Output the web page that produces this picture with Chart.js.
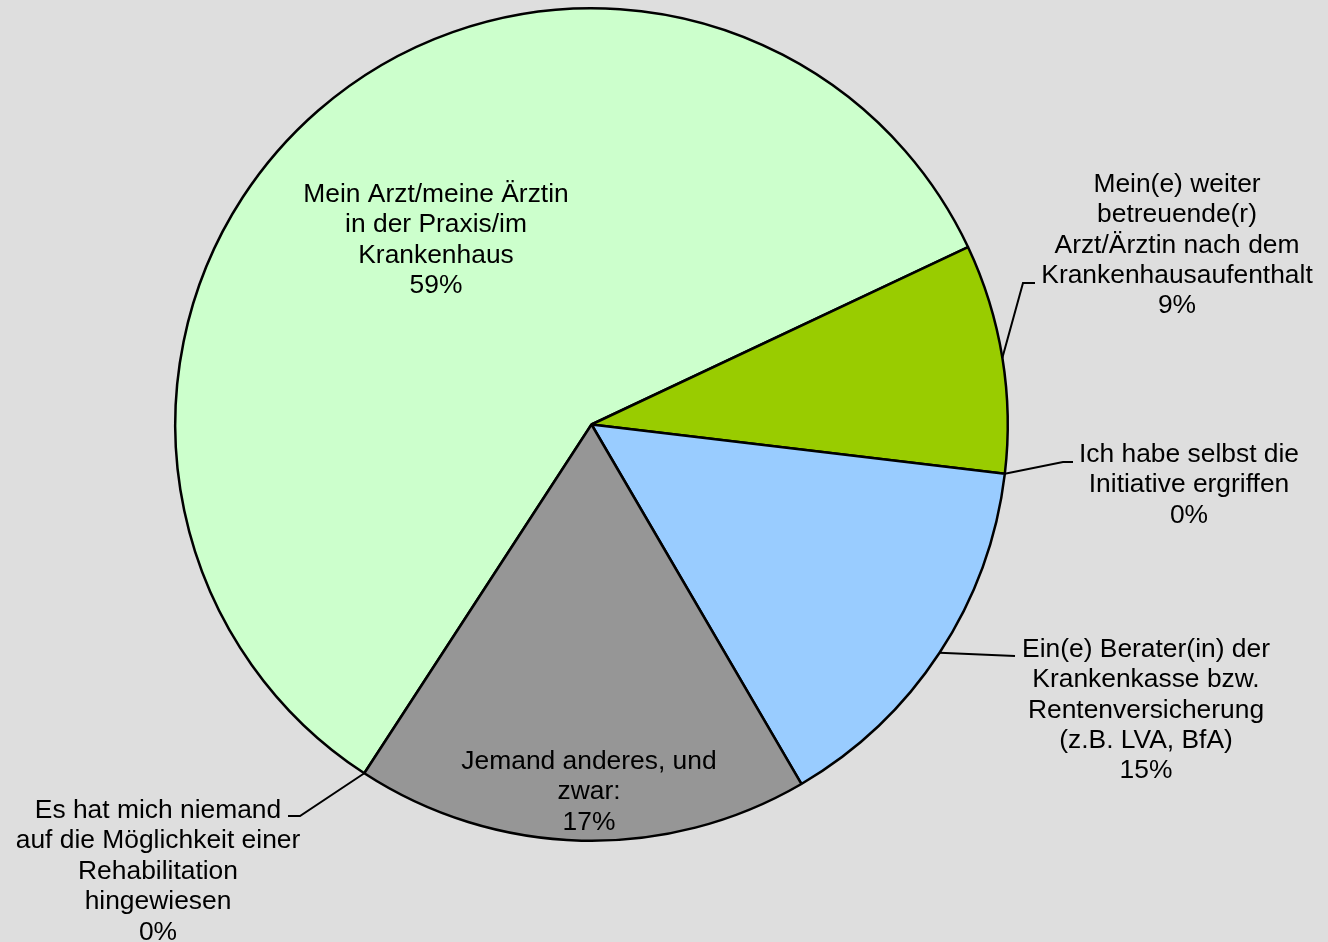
<!DOCTYPE html>
<html>
<head>
<meta charset="utf-8">
<script src="https://cdn.jsdelivr.net/npm/chart.js@4.4.0/dist/chart.umd.min.js"></script>
<style>
  html, body { margin: 0; padding: 0; background: #dedede; }
  #wrap { width: 1328px; height: 942px; }
</style>
</head>
<body>
<div id="wrap"><canvas id="pieChart" width="1328" height="942"></canvas></div>
<script>
const categories = [
  'Mein Arzt/meine Ärztin\nin der Praxis/im\nKrankenhaus',
  'Mein(e) weiter\nbetreuende(r)\nArzt/Ärztin nach dem\nKrankenhausaufenthalt',
  'Ich habe selbst die\nInitiative ergriffen',
  'Ein(e) Berater(in) der\nKrankenkasse bzw.\nRentenversicherung\n(z.B. LVA, BfA)',
  'Jemand anderes, und\nzwar:',
  'Es hat mich niemand\nauf die Möglichkeit einer\nRehabilitation\nhingewiesen',
];
const shares = [58.8, 8.9, 0, 14.7, 17.6, 0];
const shownPercent = [59, 9, 0, 15, 17, 0];
const sliceColors = ['#ccffcc', '#99cc00', '#ffffff', '#99ccff', '#969696', '#ffffff'];

// where each label goes, relative to the pie centre (first baseline, centred text)
const labelLayout = [
  { tx: -155.5, ty: -222.5 },
  { tx: 585.5, ty: -232.8, elbow: [431.5, -141.5], hook: [443.5, -141.5] },
  { tx: 597.5, ty: 37.5, elbow: [471.5, 37.5], hook: [481.5, 37.5] },
  { tx: 554.5, ty: 232.2, elbow: [423.5, 231.5] },
  { tx: -2.5, ty: 344.5 },
  { tx: -433.5, ty: 393.5, elbow: [-291.5, 391.5], hook: [-303.5, 391.5] },
];

const FONT = '26.4px "Liberation Sans", Arial, sans-serif';
const LINE_H = 30.4;

const pieLabels = {
  id: 'pieLabels',
  afterDatasetsDraw(chart) {
    const ctx = chart.ctx;
    const arcs = chart.getDatasetMeta(0).data;
    ctx.save();
    ctx.font = FONT;
    ctx.fillStyle = '#000';
    ctx.strokeStyle = '#000';
    ctx.lineWidth = 2;
    ctx.textAlign = 'center';
    ctx.textBaseline = 'alphabetic';
    arcs.forEach((arc, i) => {
      const { x, y, startAngle, endAngle, outerRadius } =
        arc.getProps(['x', 'y', 'startAngle', 'endAngle', 'outerRadius'], true);
      const lay = labelLayout[i];
      if (lay.elbow) {
        const mid = (startAngle + endAngle) / 2;
        ctx.beginPath();
        ctx.moveTo(x + Math.cos(mid) * outerRadius, y + Math.sin(mid) * outerRadius);
        ctx.lineTo(x + lay.elbow[0], y + lay.elbow[1]);
        if (lay.hook) ctx.lineTo(x + lay.hook[0], y + lay.hook[1]);
        ctx.stroke();
      }
      const lines = categories[i].split('\n').concat(shownPercent[i] + '%');
      lines.forEach((line, k) => {
        ctx.fillText(line, x + lay.tx, y + lay.ty + k * LINE_H);
      });
    });
    ctx.restore();
  },
};

new Chart(document.getElementById('pieChart'), {
  type: 'pie',
  data: {
    labels: categories,
    datasets: [
      {
        data: shares,
        backgroundColor: sliceColors,
        borderColor: '#000',
        borderWidth: 2.5,
      },
    ],
  },
  options: {
    responsive: false,
    animation: false,
    events: [],
    rotation: 213.08,
    layout: { padding: { left: 174, right: 319, top: 7, bottom: 100 } },
    plugins: {
      legend: { display: false },
      tooltip: { enabled: false },
    },
  },
  plugins: [pieLabels],
});
</script>
</body>
</html>
